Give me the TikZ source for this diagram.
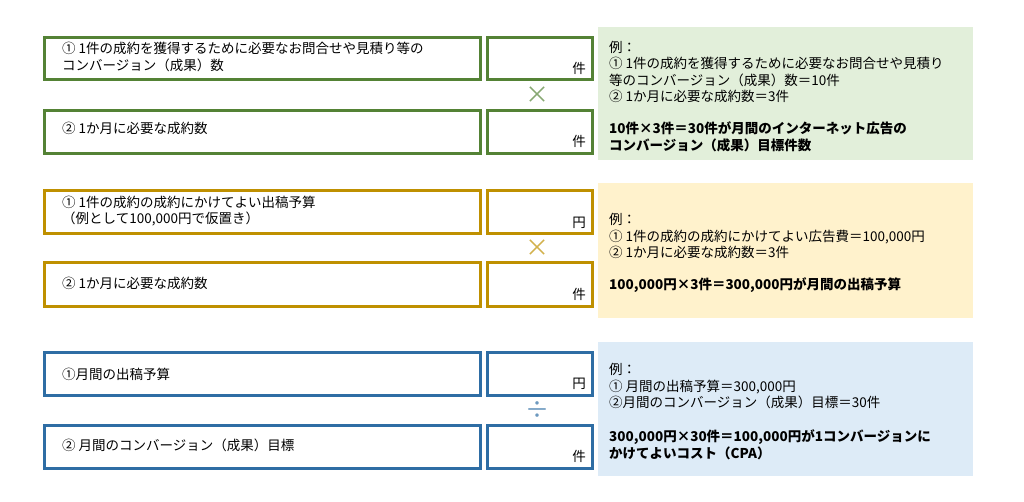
\documentclass[tikz,border=0pt]{standalone}
\usepackage{fontspec}
\setmainfont{Noto Sans CJK JP}
\begin{document}
\begin{tikzpicture}[x=1pt,y=-1pt,
 bx/.style={draw=#1,line width=3pt},
 lbl/.style={anchor=west,align=left,font=\fontsize{13.5}{16.5}\selectfont,inner sep=0pt},
 unit/.style={anchor=south east,font=\fontsize{13.5}{14}\selectfont,inner sep=0pt},
 op/.style={font=\fontsize{24}{24}\selectfont,text=#1},
 pt/.style={anchor=west,align=left,font=\fontsize{13.5}{16.5}\selectfont,inner sep=0pt}]
\useasboundingbox (0,0) rectangle (1024,501);
\fill[white] (0,0) rectangle (1024,501);
\definecolor{g}{HTML}{548235}\definecolor{y}{HTML}{BF9000}\definecolor{b}{HTML}{2E6DA4}
\definecolor{gp}{HTML}{E2EFDA}\definecolor{yp}{HTML}{FFF2CC}\definecolor{bp}{HTML}{DDEBF7}
\tikzset{bd/.style={pt,font=\fontsize{13.5}{16.5}\selectfont\bfseries}}
% group 1
\draw[bx=g] (44,37) rectangle (480,79); \draw[bx=g] (487,37) rectangle (592,79);
\draw[bx=g] (44,110) rectangle (480,153); \draw[bx=g] (487,110) rectangle (592,153);
\node[lbl] (a1) at (62,57) {① 1件の成約を獲得するために必要なお問合せや見積り等の\\コンバージョン（成果）数};
\node[lbl] (a2) at (62,128) {② 1か月に必要な成約数};
\node[unit] (u1) at (586,75) {件}; \node[unit] (u2) at (586,148) {件};
\node[op=g!70] (o1) at (537,95) {×};
\fill[gp] (598,27) rectangle (973,160);
\node[pt] (p1) at (609,72) {例：\\① 1件の成約を獲得するために必要なお問合せや見積り\\等のコンバージョン（成果）数＝10件\\② 1か月に必要な成約数＝3件};
\node[bd] (q1) at (609,137) {10件×3件＝30件が月間のインターネット広告の\\コンバージョン（成果）目標件数};
% group 2
\draw[bx=y] (44,190) rectangle (480,233); \draw[bx=y] (487,190) rectangle (592,233);
\draw[bx=y] (44,262) rectangle (480,306); \draw[bx=y] (487,262) rectangle (592,306);
\node[lbl] (b1) at (62,211) {① 1件の成約の成約にかけてよい出稿予算\\（例として100,000円で仮置き）};
\node[lbl] (b2) at (62,283) {② 1か月に必要な成約数};
\node[unit] (v1) at (586,229) {円}; \node[unit] (v2) at (586,301) {件};
\node[op=y!70] (o2) at (537,248) {×};
\fill[yp] (598,183) rectangle (973,318);
\node[pt] (p2) at (609,236) {例：\\① 1件の成約の成約にかけてよい広告費＝100,000円\\② 1か月に必要な成約数＝3件};
\node[bd] (q2) at (609,285) {100,000円×3件＝300,000円が月間の出稿予算};
% group 3
\draw[bx=b] (44,352) rectangle (480,395); \draw[bx=b] (487,352) rectangle (592,395);
\draw[bx=b] (44,425) rectangle (480,468); \draw[bx=b] (487,425) rectangle (592,468);
\node[lbl] (c1) at (62,374) {①月間の出稿予算};
\node[lbl] (c2) at (62,445) {② 月間のコンバージョン（成果）目標};
\node[unit] (w1) at (586,390) {円}; \node[unit] (w2) at (586,463) {件};
\node[op=b!70] (o3) at (537,410) {÷};
\fill[bp] (598,342) rectangle (973,476);
\node[pt] (p3) at (609,386) {例：\\① 月間の出稿予算＝300,000円\\②月間のコンバージョン（成果）目標＝30件};
\node[bd] (q3) at (609,445) {300,000円×30件＝100,000円が1コンバージョンに\\かけてよいコスト（CPA）};
\end{tikzpicture}
\end{document}
